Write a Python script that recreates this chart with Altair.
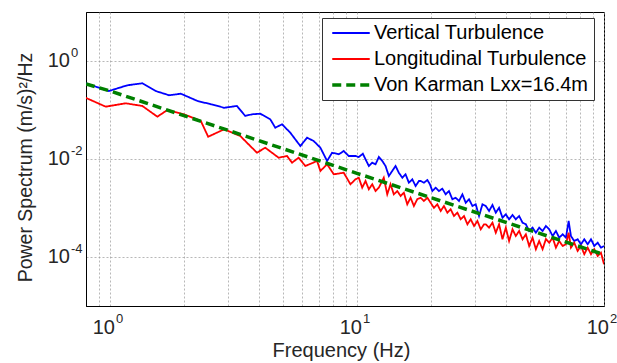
import altair as alt
import pandas as pd

# ---- data ----
blue_f = [0.797, 0.99, 1.175, 1.352, 1.532, 1.735, 1.936, 2.261, 2.562, 2.901,
          3.266, 3.530, 3.757, 4.060, 4.457, 4.670, 4.973, 5.371, 5.900, 6.281,
          6.679, 7.111, 7.57, 7.93, 8.44, 8.84, 9.26,
          9.861, 10.17, 10.56, 10.83, 11.17, 11.53, 11.89, 12.26, 12.66, 13.05,
          13.46, 13.89, 14.33, 14.77, 15.26, 15.73, 16.22, 16.75, 17.27, 17.82,
          18.10, 18.66, 19.27, 19.74, 20.19, 20.82, 21.47, 22.16, 22.86, 23.57,
          24.33, 25.09, 25.88, 26.72, 27.55, 28.42, 29.33, 30.25, 31.20, 32.21,
          33.21, 34.25, 35.36, 36.47, 37.61, 38.82, 40.04, 41.29, 42.63, 43.95,
          45.34, 46.80, 48.27, 49.78, 51.38, 52.99, 54.65, 56.42,
          58.19, 60.01, 61.95, 63.87, 65.87, 68.01, 70.14, 71.93, 73.48, 75.77,
          78.22, 80.68, 83.21, 85.88, 88.58, 91.34, 94.29, 97.23, 100.0]
blue_p = [0.351, 0.244, 0.319, 0.351, 0.244, 0.200, 0.215, 0.153, 0.131, 0.111,
          0.121, 0.0755, 0.0817, 0.0840, 0.0646, 0.0435, 0.0511, 0.0344, 0.0184, 0.0272,
          0.0233, 0.0170, 0.0091, 0.01345, 0.01247, 0.01456, 0.0115,
          0.01151, 0.01098, 0.01283, 0.00986, 0.00720, 0.00841, 0.00779, 0.01098, 0.00910, 0.00720,
          0.00450, 0.00569, 0.00720, 0.00525, 0.00415, 0.00487, 0.00328, 0.00385, 0.00281, 0.00356,
          0.00356, 0.00328, 0.00373, 0.00305, 0.00222, 0.00260, 0.00222, 0.00248, 0.00190, 0.00222,
          0.00151, 0.00162, 0.00139, 0.00190, 0.00128, 0.00151, 0.00110, 0.00119, 0.000687, 0.00119,
          0.00110, 0.000869, 0.00115, 0.000802, 0.00101, 0.000634, 0.000743, 0.000588, 0.000720, 0.000588,
          0.000687, 0.000501, 0.000465, 0.000340, 0.000397, 0.000313, 0.000397, 0.000340,
          0.000429, 0.000367, 0.000268, 0.000340, 0.000248, 0.000290, 0.000248, 0.000543, 0.000268, 0.000212,
          0.000230, 0.000182, 0.000230, 0.000182, 0.000230, 0.000168, 0.000196, 0.000155, 0.000168]

red_f = [0.797, 0.961, 1.158, 1.352, 1.556, 1.708, 1.995, 2.333, 2.498, 2.901,
         3.368, 3.698, 3.937, 4.254, 4.817, 5.211, 5.460, 5.806, 6.18, 6.895,
         7.111, 7.57, 8.054, 8.84, 9.41,
         9.861, 10.17, 10.50, 10.83, 11.17, 11.53, 11.89, 12.26, 12.84, 13.26,
         13.67, 14.10, 14.56, 15.02, 15.48, 15.98, 16.48, 17.00, 17.54,
         18.10, 18.66, 19.27, 19.87, 20.49, 21.15, 21.82, 22.50, 23.22, 23.95,
         24.70, 25.50, 26.30, 27.12, 27.99, 28.87, 29.78, 30.73, 31.70, 32.69,
         33.21, 34.25, 35.36, 36.47, 37.61, 38.82, 40.04, 41.29, 42.63, 43.95,
         45.34, 46.80, 48.27, 49.78, 51.38, 52.99, 54.65, 56.42, 58.19,
         60.01, 61.95, 63.87, 65.87, 68.01, 70.14, 71.93, 73.48, 75.77, 78.22,
         80.68, 83.21, 85.88, 88.58, 91.34, 94.29, 97.23, 100.0]
red_p = [0.178, 0.117, 0.137, 0.121, 0.0730, 0.100, 0.0817, 0.0597, 0.0285, 0.0404,
         0.0295, 0.0184, 0.01345, 0.0170, 0.01064, 0.0115, 0.0084, 0.01064, 0.0072, 0.0091,
         0.00569, 0.0078, 0.00487, 0.00525, 0.00305,
         0.00385, 0.00415, 0.00260, 0.00356, 0.00241, 0.00305, 0.00222, 0.00260, 0.00415, 0.00190,
         0.00305, 0.00190, 0.00222, 0.00176, 0.00205, 0.00119, 0.00162, 0.00110, 0.00151,
         0.00162, 0.00139, 0.00162, 0.00128, 0.00101, 0.00119, 0.000869, 0.00110, 0.000802, 0.000941,
         0.000687, 0.000802, 0.000588, 0.000687, 0.000465, 0.000588, 0.000429, 0.000543, 0.000367, 0.000465,
         0.000465, 0.000397, 0.000501, 0.000313, 0.000465, 0.000230, 0.000397, 0.000212, 0.000367, 0.000268,
         0.000340, 0.000230, 0.000290, 0.000168, 0.000248, 0.000144, 0.000212, 0.000144, 0.000233,
         0.000196, 0.000248, 0.000155, 0.000212, 0.000168, 0.000182, 0.000313, 0.000155, 0.000196, 0.000133,
         0.000168, 0.000114, 0.000155, 0.000114, 0.000144, 0.000105, 0.000122, 0.0000710]

vk_f = [0.8, 1.0, 10.0, 100.0]
vk_p = [0.34, 0.245, 0.0051, 0.000112]

series_names = ["Vertical Turbulence", "Longitudinal Turbulence", "Von Karman Lxx=16.4m"]
series_colors = ["#0000FF", "#FF0000", "#008000"]

x_grid = [0.9, 1, 2, 3, 4, 5, 6, 7, 8, 9, 10, 20, 30, 40, 50, 60, 70, 80, 90, 100]
y_grid = [1e-4, 1e-2, 1]
x_label_vals = [1, 10, 100]
x_label_exp = ["0", "1", "2"]
y_label_vals = [1, 1e-2, 1e-4]
y_label_exp = ["0", "-2", "-4"]

FONT = "Liberation Sans"
TXT = "#262626"

rows = []
for name, fs, ps in zip(series_names, [blue_f, red_f, vk_f], [blue_p, red_p, vk_p]):
    for i, (f, p) in enumerate(zip(fs, ps)):
        rows.append({"series": name, "freq": f, "power": p, "idx": i})
df = pd.DataFrame(rows)

xs = alt.Scale(type="log", domain=[0.8, 100], nice=False)
ys = alt.Scale(type="log", domain=[1e-5, 10], nice=False)

x_axis = alt.Axis(values=x_grid, labels=False, ticks=False, grid=True,
                  gridColor="#9a9a9a", gridDash=[2, 2], gridWidth=0.7,
                  domainColor="black", title="Frequency (Hz)", titleFont=FONT,
                  titleFontSize=20, titleFontWeight="normal", titleColor=TXT,
                  titleX=255, titleY=50, titleBaseline="alphabetic", titleAlign="center")
y_axis = alt.Axis(values=y_grid, labels=False, ticks=False, grid=True,
                  gridColor="#9a9a9a", gridDash=[2, 2], gridWidth=0.7,
                  domainColor="black", title="Power Spectrum (m/s)²/Hz", titleFont=FONT,
                  titleFontSize=19.5, titleFontWeight="normal", titleColor=TXT,
                  titleX=-61, titleY=155, titleBaseline="middle", titleAlign="center",
                  titleAngle=270)

leg = alt.Legend(title=None, orient="none", legendX=236, legendY=6,
                 symbolType="M-2.5,0H2.5", symbolSize=225, symbolOffset=14,
                 labelFont=FONT, labelFontSize=20, labelColor="black",
                 padding=5, rowPadding=6, labelOffset=13,
                 strokeColor="#333333", fillColor="white", cornerRadius=0,
                 labelLimit=400)

enc = dict(
    x=alt.X("freq:Q", scale=xs, axis=x_axis),
    y=alt.Y("power:Q", scale=ys, axis=y_axis),
    order=alt.Order("idx:Q"),
    color=alt.Color("series:N", scale=alt.Scale(domain=series_names, range=series_colors),
                    sort=series_names, legend=leg),
    strokeDash=alt.StrokeDash("series:N", scale=alt.Scale(domain=series_names,
                              range=[[1, 0], [1, 0], [9, 5]]), sort=series_names, legend=leg),
    strokeWidth=alt.StrokeWidth("series:N", scale=alt.Scale(type="ordinal", domain=series_names,
                                range=[1.8, 1.8, 3.5]), sort=series_names, legend=leg),
)

base = alt.Chart(df)
layers = []
for name in series_names:
    layers.append(
        base.transform_filter(alt.datum.series == name)
        .mark_line(clip=True, strokeCap="butt", strokeJoin="miter")
        .encode(**enc)
    )

ylab = pd.DataFrame({"power": y_label_vals, "exp": y_label_exp})
xlab = pd.DataFrame({"freq": x_label_vals, "exp": x_label_exp})

y10 = alt.Chart(ylab).mark_text(text="10", font=FONT, fontSize=20, align="right",
                                baseline="alphabetic", dy=6, color=TXT).encode(
    y=alt.Y("power:Q", scale=ys), x=alt.value(-16))
yexp = alt.Chart(ylab).mark_text(font=FONT, fontSize=13, align="left",
                                 baseline="alphabetic", dy=-4, color=TXT).encode(
    y=alt.Y("power:Q", scale=ys), x=alt.value(-15), text="exp:N")
x10 = alt.Chart(xlab).mark_text(text="10", font=FONT, fontSize=20, align="right",
                                baseline="alphabetic", dx=5, color=TXT).encode(
    x=alt.X("freq:Q", scale=xs), y=alt.value(322))
xexp = alt.Chart(xlab).mark_text(font=FONT, fontSize=13, align="left",
                                 baseline="alphabetic", dx=6, color=TXT).encode(
    x=alt.X("freq:Q", scale=xs), y=alt.value(311), text="exp:N")

chart = alt.layer(*layers, y10, yexp, x10, xexp).properties(
    width=518, height=294,
    autosize=alt.AutoSizeParams(type="none"),
    padding={"left": 86, "top": 12, "right": 13, "bottom": 57},
    background="white",
).configure_view(stroke="black", strokeWidth=1)

chart.save("out.html", embed_options={"renderer": "svg", "actions": False})
